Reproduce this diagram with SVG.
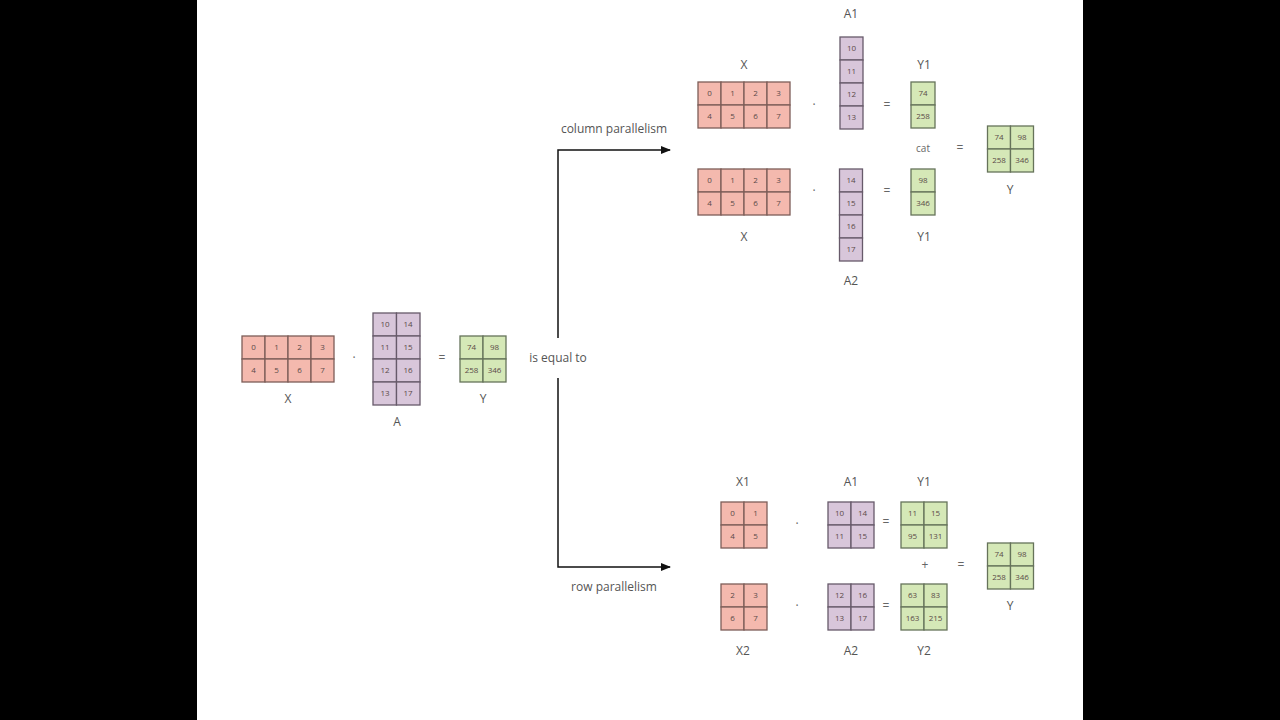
<svg xmlns="http://www.w3.org/2000/svg" width="1280" height="720" viewBox="0 0 1280 720">
<defs>
<style>
.r{fill:#f4b9ae;stroke:#7d5d58;stroke-width:1.3}
.p{fill:#d8c6da;stroke:#675a6a;stroke-width:1.3}
.g{fill:#d5e8b7;stroke:#66735a;stroke-width:1.3}
.n{font-family:"Open Sans","Liberation Sans",sans-serif;font-size:8px;fill:#5a4a48;text-anchor:middle}
.l{font-family:"Open Sans","Liberation Sans",sans-serif;font-size:12px;fill:#555;text-anchor:middle}
.o{font-family:"Open Sans","Liberation Sans",sans-serif;font-size:12px;fill:#666;text-anchor:middle}
.c{fill:none;stroke:#111;stroke-width:1.5}
</style>
<marker id="ah" viewBox="0 0 10 10" refX="9" refY="5" markerWidth="7" markerHeight="7" orient="auto"><path d="M0,1 L10,5 L0,9 z" fill="#111"/></marker>
</defs>
<rect x="0" y="0" width="1280" height="720" fill="#000"/>
<rect x="197" y="0" width="886" height="720" fill="#fff"/>

<g id="connectors">
<path class="c" d="M558,338 V150 H670" marker-end="url(#ah)"/>
<path class="c" d="M558,378 V567 H670" marker-end="url(#ah)"/>
</g>

<g id="labels">
<text class="l" x="614" y="133">column parallelism</text>
<text class="l" x="558" y="362">is equal to</text>
<text class="l" x="614" y="591">row parallelism</text>
</g>

<g id="main-X">
<rect class="r" x="242" y="336" width="23" height="23"/><rect class="r" x="265" y="336" width="23" height="23"/><rect class="r" x="288" y="336" width="23" height="23"/><rect class="r" x="311" y="336" width="23" height="23"/>
<rect class="r" x="242" y="359" width="23" height="23"/><rect class="r" x="265" y="359" width="23" height="23"/><rect class="r" x="288" y="359" width="23" height="23"/><rect class="r" x="311" y="359" width="23" height="23"/>
<text class="n" x="253.5" y="350">0</text><text class="n" x="276.5" y="350">1</text><text class="n" x="299.5" y="350">2</text><text class="n" x="322.5" y="350">3</text>
<text class="n" x="253.5" y="373">4</text><text class="n" x="276.5" y="373">5</text><text class="n" x="299.5" y="373">6</text><text class="n" x="322.5" y="373">7</text>
<text class="l" x="288" y="403">X</text>
</g>
<text class="o" x="354" y="362">·</text>
<g id="main-A">
<rect class="p" x="373" y="313" width="23.5" height="23"/><rect class="p" x="396.5" y="313" width="23.5" height="23"/>
<rect class="p" x="373" y="336" width="23.5" height="23"/><rect class="p" x="396.5" y="336" width="23.5" height="23"/>
<rect class="p" x="373" y="359" width="23.5" height="23"/><rect class="p" x="396.5" y="359" width="23.5" height="23"/>
<rect class="p" x="373" y="382" width="23.5" height="23"/><rect class="p" x="396.5" y="382" width="23.5" height="23"/>
<text class="n" x="385" y="327">10</text><text class="n" x="408" y="327">14</text>
<text class="n" x="385" y="350">11</text><text class="n" x="408" y="350">15</text>
<text class="n" x="385" y="373">12</text><text class="n" x="408" y="373">16</text>
<text class="n" x="385" y="396">13</text><text class="n" x="408" y="396">17</text>
<text class="l" x="397" y="426">A</text>
</g>
<text class="o" x="442" y="362">=</text>
<g id="main-Y">
<rect class="g" x="460" y="336" width="23" height="23"/><rect class="g" x="483" y="336" width="23" height="23"/>
<rect class="g" x="460" y="359" width="23" height="23"/><rect class="g" x="483" y="359" width="23" height="23"/>
<text class="n" x="471.5" y="350">74</text><text class="n" x="494.5" y="350">98</text>
<text class="n" x="471.5" y="373">258</text><text class="n" x="494.5" y="373">346</text>
<text class="l" x="483" y="403">Y</text>
</g>

<g id="col-X-top">
<rect class="r" x="698" y="82" width="23" height="23"/><rect class="r" x="721" y="82" width="23" height="23"/><rect class="r" x="744" y="82" width="23" height="23"/><rect class="r" x="767" y="82" width="23" height="23"/>
<rect class="r" x="698" y="105" width="23" height="23"/><rect class="r" x="721" y="105" width="23" height="23"/><rect class="r" x="744" y="105" width="23" height="23"/><rect class="r" x="767" y="105" width="23" height="23"/>
<text class="n" x="709.5" y="96">0</text><text class="n" x="732.5" y="96">1</text><text class="n" x="755.5" y="96">2</text><text class="n" x="778.5" y="96">3</text>
<text class="n" x="709.5" y="119">4</text><text class="n" x="732.5" y="119">5</text><text class="n" x="755.5" y="119">6</text><text class="n" x="778.5" y="119">7</text>
<text class="l" x="744" y="69">X</text>
</g>
<text class="o" x="814" y="109">·</text>
<g id="col-A1">
<rect class="p" x="840" y="37" width="23" height="23"/><rect class="p" x="840" y="60" width="23" height="23"/><rect class="p" x="840" y="83" width="23" height="23"/><rect class="p" x="840" y="106" width="23" height="23"/>
<text class="n" x="851.5" y="51">10</text><text class="n" x="851.5" y="74">11</text><text class="n" x="851.5" y="97">12</text><text class="n" x="851.5" y="120">13</text>
<text class="l" x="851" y="18">A1</text>
</g>
<text class="o" x="887" y="109">=</text>
<g id="col-Y1-top">
<rect class="g" x="911" y="82" width="24" height="23"/><rect class="g" x="911" y="105" width="24" height="23"/>
<text class="n" x="923" y="96">74</text><text class="n" x="923" y="119">258</text>
<text class="l" x="924" y="69">Y1</text>
</g>

<g id="col-X-bottom">
<rect class="r" x="698" y="169" width="23" height="23"/><rect class="r" x="721" y="169" width="23" height="23"/><rect class="r" x="744" y="169" width="23" height="23"/><rect class="r" x="767" y="169" width="23" height="23"/>
<rect class="r" x="698" y="192" width="23" height="23"/><rect class="r" x="721" y="192" width="23" height="23"/><rect class="r" x="744" y="192" width="23" height="23"/><rect class="r" x="767" y="192" width="23" height="23"/>
<text class="n" x="709.5" y="183">0</text><text class="n" x="732.5" y="183">1</text><text class="n" x="755.5" y="183">2</text><text class="n" x="778.5" y="183">3</text>
<text class="n" x="709.5" y="206">4</text><text class="n" x="732.5" y="206">5</text><text class="n" x="755.5" y="206">6</text><text class="n" x="778.5" y="206">7</text>
<text class="l" x="744" y="241">X</text>
</g>
<text class="o" x="814" y="195">·</text>
<g id="col-A2">
<rect class="p" x="839.5" y="169" width="23" height="23"/><rect class="p" x="839.5" y="192" width="23" height="23"/><rect class="p" x="839.5" y="215" width="23" height="23"/><rect class="p" x="839.5" y="238" width="23" height="23"/>
<text class="n" x="851" y="183">14</text><text class="n" x="851" y="206">15</text><text class="n" x="851" y="229">16</text><text class="n" x="851" y="252">17</text>
<text class="l" x="851" y="285">A2</text>
</g>
<text class="o" x="887" y="195">=</text>
<g id="col-Y1-bottom">
<rect class="g" x="911" y="169" width="24" height="23"/><rect class="g" x="911" y="192" width="24" height="23"/>
<text class="n" x="923" y="183">98</text><text class="n" x="923" y="206">346</text>
<text class="l" x="924" y="241">Y1</text>
</g>
<text class="o" x="923" y="152" style="font-size:10px">cat</text>
<text class="o" x="960" y="152">=</text>
<g id="col-Y">
<rect class="g" x="987.5" y="126" width="23" height="23"/><rect class="g" x="1010.5" y="126" width="23" height="23"/>
<rect class="g" x="987.5" y="149" width="23" height="23"/><rect class="g" x="1010.5" y="149" width="23" height="23"/>
<text class="n" x="999" y="140">74</text><text class="n" x="1022" y="140">98</text>
<text class="n" x="999" y="163">258</text><text class="n" x="1022" y="163">346</text>
<text class="l" x="1010" y="194">Y</text>
</g>

<g id="row-X1">
<rect class="r" x="721" y="502" width="23" height="23"/><rect class="r" x="744" y="502" width="23" height="23"/>
<rect class="r" x="721" y="525" width="23" height="23"/><rect class="r" x="744" y="525" width="23" height="23"/>
<text class="n" x="732.5" y="516">0</text><text class="n" x="755.5" y="516">1</text>
<text class="n" x="732.5" y="539">4</text><text class="n" x="755.5" y="539">5</text>
<text class="l" x="743" y="486">X1</text>
</g>
<text class="o" x="797" y="528">·</text>
<g id="row-A1">
<rect class="p" x="828" y="502" width="23" height="23"/><rect class="p" x="851" y="502" width="23" height="23"/>
<rect class="p" x="828" y="525" width="23" height="23"/><rect class="p" x="851" y="525" width="23" height="23"/>
<text class="n" x="839.5" y="516">10</text><text class="n" x="862.5" y="516">14</text>
<text class="n" x="839.5" y="539">11</text><text class="n" x="862.5" y="539">15</text>
<text class="l" x="851" y="486">A1</text>
</g>
<text class="o" x="886" y="526">=</text>
<g id="row-Y1">
<rect class="g" x="901" y="502" width="23" height="23"/><rect class="g" x="924" y="502" width="23" height="23"/>
<rect class="g" x="901" y="525" width="23" height="23"/><rect class="g" x="924" y="525" width="23" height="23"/>
<text class="n" x="912.5" y="516">11</text><text class="n" x="935.5" y="516">15</text>
<text class="n" x="912.5" y="539">95</text><text class="n" x="935.5" y="539">131</text>
<text class="l" x="924" y="486">Y1</text>
</g>
<text class="o" x="925" y="569">+</text>
<text class="o" x="961" y="569">=</text>
<g id="row-Y">
<rect class="g" x="987.5" y="543" width="23" height="23"/><rect class="g" x="1010.5" y="543" width="23" height="23"/>
<rect class="g" x="987.5" y="566" width="23" height="23"/><rect class="g" x="1010.5" y="566" width="23" height="23"/>
<text class="n" x="999" y="557">74</text><text class="n" x="1022" y="557">98</text>
<text class="n" x="999" y="580">258</text><text class="n" x="1022" y="580">346</text>
<text class="l" x="1010" y="610">Y</text>
</g>

<g id="row-X2">
<rect class="r" x="721" y="584" width="23" height="23"/><rect class="r" x="744" y="584" width="23" height="23"/>
<rect class="r" x="721" y="607" width="23" height="23"/><rect class="r" x="744" y="607" width="23" height="23"/>
<text class="n" x="732.5" y="598">2</text><text class="n" x="755.5" y="598">3</text>
<text class="n" x="732.5" y="621">6</text><text class="n" x="755.5" y="621">7</text>
<text class="l" x="743" y="655">X2</text>
</g>
<text class="o" x="797" y="610">·</text>
<g id="row-A2">
<rect class="p" x="828" y="584" width="23" height="23"/><rect class="p" x="851" y="584" width="23" height="23"/>
<rect class="p" x="828" y="607" width="23" height="23"/><rect class="p" x="851" y="607" width="23" height="23"/>
<text class="n" x="839.5" y="598">12</text><text class="n" x="862.5" y="598">16</text>
<text class="n" x="839.5" y="621">13</text><text class="n" x="862.5" y="621">17</text>
<text class="l" x="851" y="655">A2</text>
</g>
<text class="o" x="886" y="610">=</text>
<g id="row-Y2">
<rect class="g" x="901" y="584" width="23" height="23"/><rect class="g" x="924" y="584" width="23" height="23"/>
<rect class="g" x="901" y="607" width="23" height="23"/><rect class="g" x="924" y="607" width="23" height="23"/>
<text class="n" x="912.5" y="598">63</text><text class="n" x="935.5" y="598">83</text>
<text class="n" x="912.5" y="621">163</text><text class="n" x="935.5" y="621">215</text>
<text class="l" x="924" y="655">Y2</text>
</g>
</svg>
